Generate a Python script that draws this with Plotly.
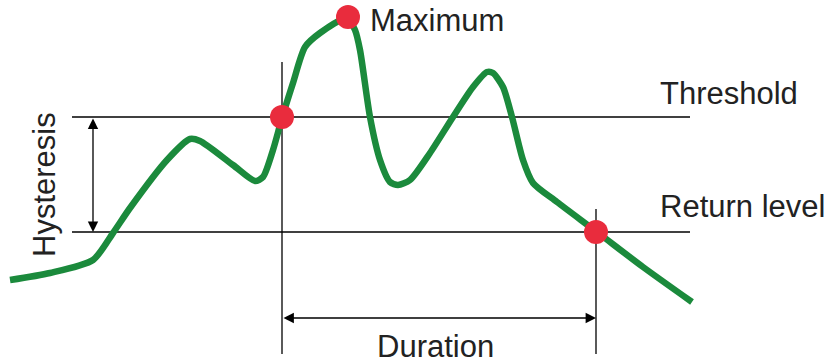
import plotly.graph_objects as go

# Signal trace (horizontal position, vertical position from top)
curve_x = [10, 50, 93, 113, 130, 167, 190, 200, 233, 255, 263, 273, 282, 293, 305,
           320, 347, 355, 360, 370, 380, 390, 398, 410, 430, 453, 473, 487, 493,
           503, 512, 523, 533, 557, 597, 643, 692]
curve_y = [280, 273, 260, 233, 208, 160, 139, 141, 165, 181, 177, 150, 118, 83, 47,
           33, 18, 30, 50, 117, 160, 182, 185, 180, 153, 117, 87, 72, 73,
           87, 117, 160, 183, 202, 232, 267, 302]

threshold_level = 117
return_level = 232
level_start = 72
level_end = 690

start_time = 282
end_time = 596
max_point = (348, 17)

duration_y = 318
hysteresis_x = 93

GREEN = "#1b8a3c"
RED = "#e92c3d"
FONT = "Liberation Sans, Arial, sans-serif"
TXT = "#222222"

fig = go.Figure()

# reference levels
for lvl in [threshold_level, return_level]:
    fig.add_trace(go.Scatter(x=[level_start, level_end], y=[lvl, lvl], mode="lines",
                             line=dict(color="black", width=1.3), hoverinfo="skip"))

# vertical markers of start / end
fig.add_trace(go.Scatter(x=[start_time, start_time], y=[62, 354], mode="lines",
                         line=dict(color="black", width=1.3), hoverinfo="skip"))
fig.add_trace(go.Scatter(x=[end_time, end_time], y=[209, 354], mode="lines",
                         line=dict(color="black", width=1.3), hoverinfo="skip"))

# the signal
fig.add_trace(go.Scatter(x=curve_x, y=curve_y, mode="lines",
                         line=dict(color=GREEN, width=6.5, shape="spline", smoothing=0.7),
                         hoverinfo="skip"))

# key points
fig.add_trace(go.Scatter(x=[start_time, max_point[0], end_time],
                         y=[threshold_level, max_point[1], return_level],
                         mode="markers", marker=dict(color=RED, size=24), hoverinfo="skip"))

# double arrows
fig.add_annotation(x=end_time, y=duration_y, ax=start_time, ay=duration_y,
                   xref="x", yref="y", axref="x", ayref="y", text="",
                   showarrow=True, arrowhead=2, startarrowhead=2, arrowside="end+start",
                   arrowsize=1.6, startarrowsize=1.6, arrowwidth=1.3, arrowcolor="black",
                   standoff=0, startstandoff=0)
fig.add_annotation(x=hysteresis_x, y=return_level, ax=hysteresis_x, ay=threshold_level,
                   xref="x", yref="y", axref="x", ayref="y", text="",
                   showarrow=True, arrowhead=2, startarrowhead=2, arrowside="end+start",
                   arrowsize=1.6, startarrowsize=1.6, arrowwidth=1.3, arrowcolor="black",
                   standoff=0, startstandoff=0)

# labels
labels = [
    ("Maximum", 368, 20, "left"),
    ("Threshold", 658, 93, "left"),
    ("Return level", 658, 206, "left"),
    ("Duration", 435, 346, "center"),
]
for txt, x, y, anchor in labels:
    fig.add_annotation(x=x, y=y, text=txt, showarrow=False, xanchor=anchor, yanchor="middle",
                       font=dict(family=FONT, size=31, color=TXT))
fig.add_annotation(x=44, y=185, text="Hysteresis", showarrow=False, textangle=-90,
                   xanchor="center", yanchor="middle",
                   font=dict(family=FONT, size=31, color=TXT))

fig.update_layout(
    width=831, height=364, margin=dict(l=0, r=0, t=0, b=0),
    plot_bgcolor="white", paper_bgcolor="white", showlegend=False,
    xaxis=dict(range=[0, 831], visible=False, fixedrange=True),
    yaxis=dict(range=[364, 0], visible=False, fixedrange=True),
)

# drop the default 8px body margin so the figure sits flush in the window
fig.write_html("out.html", config={"displayModeBar": False},
               post_script="document.body.style.margin='0px';")
